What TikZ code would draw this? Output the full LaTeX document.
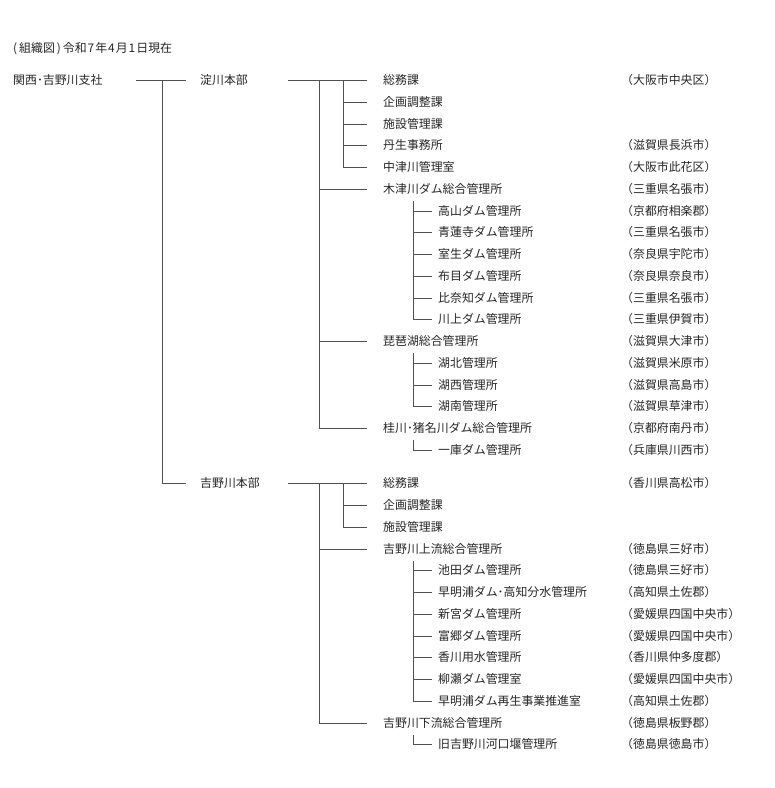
\documentclass[tikz,border=0pt]{standalone}
\usepackage{fontspec}
\newfontfamily\jp{Noto Sans CJK JP}
\usetikzlibrary{calc}
\definecolor{txtc}{HTML}{262626}
\definecolor{linec}{HTML}{505050}
\tikzset{
  txt/.style={anchor=west, inner sep=0pt, text height=0.88em, text depth=0.12em, font=\jp\fontsize{11.9pt}{14pt}\selectfont, text=txtc},
  ln/.style={draw=linec, line width=1.5pt},
}
\begin{document}
\begin{tikzpicture}[x=1pt,y=-1pt]
\useasboundingbox[fill=white] (0,0) rectangle (775,788);
\def\ya#1{round(80+21.75*#1)+0.5}
\def\yb#1{round(483.3+21.75*#1)+0.5}
% title and top levels
\node[txt] (title) at (13,49) {(\kern2pt 組織図\kern2pt)\kern2pt 令和\kern1pt 7\kern1pt 年\kern1pt 4\kern1pt 月\kern1pt 1\kern1pt 日現在};
\node[txt] (kansai) at (13,{\ya{0}}) {関西･吉野川支社};
\node[txt] (yodo) at (200,{\ya{0}}) {淀川本部};
\node[txt] (yoshino) at (200,{\yb{0}}) {吉野川本部};
% Yodogawa branch
\node[txt] (y0) at (383,{\ya{0}}) {総務課};
\node[txt] (y1) at (383,{\ya{1}}) {企画調整課};
\node[txt] (y2) at (383,{\ya{2}}) {施設管理課};
\node[txt] (y3) at (383,{\ya{3}}) {丹生事務所};
\node[txt] (y4) at (383,{\ya{4}}) {中津川管理室};
\node[txt] (y5) at (383,{\ya{5}}) {木津川ダム総合管理所};
\node[txt] (y6) at (438,{\ya{6}}) {高山ダム管理所};
\node[txt] (y7) at (438,{\ya{7}}) {青蓮寺ダム管理所};
\node[txt] (y8) at (438,{\ya{8}}) {室生ダム管理所};
\node[txt] (y9) at (438,{\ya{9}}) {布目ダム管理所};
\node[txt] (y10) at (438,{\ya{10}}) {比奈知ダム管理所};
\node[txt] (y11) at (438,{\ya{11}}) {川上ダム管理所};
\node[txt] (y12) at (383,{\ya{12}}) {琵琶湖総合管理所};
\node[txt] (y13) at (438,{\ya{13}}) {湖北管理所};
\node[txt] (y14) at (438,{\ya{14}}) {湖西管理所};
\node[txt] (y15) at (438,{\ya{15}}) {湖南管理所};
\node[txt] (y16) at (383,{\ya{16}}) {桂川･猪名川ダム総合管理所};
\node[txt] (y17) at (438,{\ya{17}}) {一庫ダム管理所};
% Yodogawa locations
\foreach \k/\t in {0/大阪市中央区,3/滋賀県長浜市,4/大阪市此花区,5/三重県名張市,6/京都府相楽郡,7/三重県名張市,8/奈良県宇陀市,9/奈良県奈良市,10/三重県名張市,11/三重県伊賀市,12/滋賀県大津市,13/滋賀県米原市,14/滋賀県高島市,15/滋賀県草津市,16/京都府南丹市,17/兵庫県川西市}
  \node[txt] (ry\k) at (621,{\ya{\k}}) {（\t）};
% Yoshinogawa branch
\node[txt] (s0) at (383,{\yb{0}}) {総務課};
\node[txt] (s1) at (383,{\yb{1}}) {企画調整課};
\node[txt] (s2) at (383,{\yb{2}}) {施設管理課};
\node[txt] (s3) at (383,{\yb{3}}) {吉野川上流総合管理所};
\node[txt] (s4) at (438,{\yb{4}}) {池田ダム管理所};
\node[txt] (s5) at (438,{\yb{5}}) {早明浦ダム･高知分水管理所};
\node[txt] (s6) at (438,{\yb{6}}) {新宮ダム管理所};
\node[txt] (s7) at (438,{\yb{7}}) {富郷ダム管理所};
\node[txt] (s8) at (438,{\yb{8}}) {香川用水管理所};
\node[txt] (s9) at (438,{\yb{9}}) {柳瀬ダム管理室};
\node[txt] (s10) at (438,{\yb{10}}) {早明浦ダム再生事業推進室};
\node[txt] (s11) at (383,{\yb{11}}) {吉野川下流総合管理所};
\node[txt] (s12) at (438,{\yb{12}}) {旧吉野川河口堰管理所};
\foreach \k/\t in {0/香川県高松市,3/徳島県三好市,4/徳島県三好市,5/高知県土佐郡,6/愛媛県四国中央市,7/愛媛県四国中央市,8/香川県仲多度郡,9/愛媛県四国中央市,10/高知県土佐郡,11/徳島県板野郡,12/徳島県徳島市}
  \node[txt] (rs\k) at (621,{\yb{\k}}) {（\t）};
% level 1 connectors
\draw[ln] ([xshift=-64pt]yodo.west) -- ([xshift=-14pt]yodo.west);
\draw[ln] ([xshift=-37.5pt]yodo.west) |- ([xshift=-14pt]yoshino.west);
% Yodogawa level 2
\draw[ln] ([xshift=-95pt]y0.west) -- ([xshift=-16pt]y0.west);
\draw[ln] ([xshift=-63.5pt]y0.west) |- ([xshift=-16pt]y16.west);
\draw[ln] ([xshift=-63.5pt]y5.west) -- ([xshift=-16pt]y5.west);
\draw[ln] ([xshift=-63.5pt]y12.west) -- ([xshift=-16pt]y12.west);
\draw[ln] ([xshift=-39.5pt]y0.west) |- ([xshift=-16pt]y4.west);
\foreach \n in {y1,y2,y3}
  \draw[ln] ([xshift=-39.5pt]\n.west) -- ([xshift=-16pt]\n.west);
% Yodogawa level 3
\draw[ln] ([xshift=30.5pt,yshift=-11.5pt]y5.west) |- ([xshift=-6pt]y11.west);
\foreach \n in {y6,y7,y8,y9,y10}
  \draw[ln] ([xshift=-24.5pt]\n.west) -- ([xshift=-6pt]\n.west);
\draw[ln] ([xshift=30.5pt,yshift=-11.5pt]y12.west) |- ([xshift=-6pt]y15.west);
\foreach \n in {y13,y14}
  \draw[ln] ([xshift=-24.5pt]\n.west) -- ([xshift=-6pt]\n.west);
\draw[ln] ([xshift=30.5pt,yshift=-11.5pt]y16.west) |- ([xshift=-6pt]y17.west);
% Yoshinogawa level 2
\draw[ln] ([xshift=-95pt]s0.west) -- ([xshift=-16pt]s0.west);
\draw[ln] ([xshift=-63.5pt]s0.west) |- ([xshift=-16pt]s11.west);
\draw[ln] ([xshift=-63.5pt]s3.west) -- ([xshift=-16pt]s3.west);
\draw[ln] ([xshift=-39.5pt]s0.west) |- ([xshift=-16pt]s2.west);
\draw[ln] ([xshift=-39.5pt]s1.west) -- ([xshift=-16pt]s1.west);
% Yoshinogawa level 3
\draw[ln] ([xshift=30.5pt,yshift=-11.5pt]s3.west) |- ([xshift=-6pt]s10.west);
\foreach \n in {s4,s5,s6,s7,s8,s9}
  \draw[ln] ([xshift=-24.5pt]\n.west) -- ([xshift=-6pt]\n.west);
\draw[ln] ([xshift=30.5pt,yshift=-11.5pt]s11.west) |- ([xshift=-6pt]s12.west);
\end{tikzpicture}
\end{document}
